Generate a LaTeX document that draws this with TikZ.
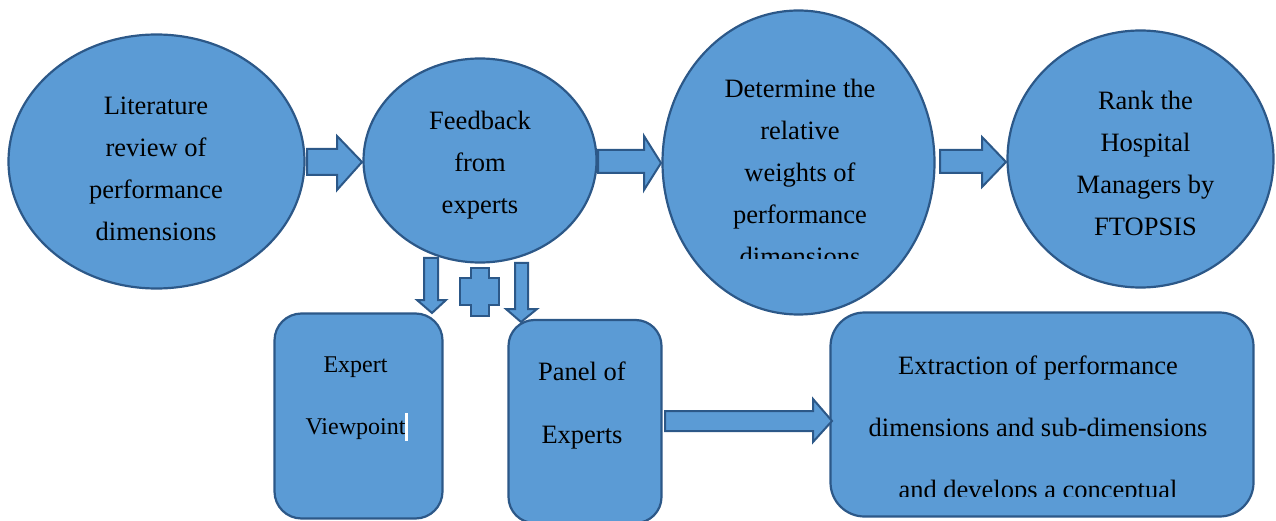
\documentclass[tikz,border=0pt]{standalone}
\usepackage{fontspec}
\setmainfont{Liberation Serif}
\usetikzlibrary{shapes.geometric}
\definecolor{fillblue}{HTML}{5B9BD5}
\definecolor{edgeblue}{HTML}{2C5888}
\begin{document}
\begin{tikzpicture}[x=1pt,y=-1pt,
  blueshape/.style={fill=fillblue, draw=edgeblue, line width=2.2pt},
  ell/.style={blueshape, ellipse, inner sep=0pt, outer sep=0pt},
  rbox/.style={blueshape, rectangle, inner sep=0pt, outer sep=0pt},
  blockarrow/.style={fill=fillblue, draw=edgeblue, line width=2pt, line join=miter},
  elltext/.style={anchor=north, align=center, inner sep=0pt, font=\fontsize{26.5}{42}\selectfont},
  boxtext/.style={anchor=north, align=center, inner sep=0pt}]
\useasboundingbox (0,0) rectangle (1276,521);

% ellipses
\node[ell, minimum width=296pt, minimum height=254pt] (lit) at (156.5,161.5) {};
\node[ell, minimum width=233pt, minimum height=204pt] (feed) at (480,160.5) {};
\node[ell, minimum width=272pt, minimum height=304pt] (det) at (798.5,162.5) {};
\node[ell, minimum width=266pt, minimum height=257pt] (rank) at (1140.5,159) {};

% rounded boxes
\node[rbox, rounded corners=27pt, minimum width=168pt, minimum height=205pt] (exp) at (358.5,416) {};
\node[rbox, rounded corners=26pt, minimum width=153pt, minimum height=203pt] (panel) at (585,421.5) {};
\node[rbox, rounded corners=34pt, minimum width=423pt, minimum height=204pt] (extr) at (1042,414.5) {};

% texts
\node[elltext] (litT) at (156,84.6) {\strut Literature\\\strut review of\\\strut performance\\\strut dimensions};
\node[elltext] (feedT) at (480,99.6) {\strut Feedback\\\strut from\\\strut experts};
\begin{scope}
\clip (660,20) rectangle (940,259);
\node[elltext] (detT) at (800,67.6) {\strut Determine the\\\strut relative\\\strut weights of\\\strut performance\\\strut dimensions};
\end{scope}
\node[elltext] (rankT) at (1145.5,79.6) {\strut Rank the\\\strut Hospital\\\strut Managers by\\\strut FTOPSIS};

\node[boxtext, font=\fontsize{24}{62}\selectfont] (expT) at (355.5,328.6) {\strut Expert\\\strut Viewpoint};
\fill[white] (405,413) rectangle (408,441);
\node[boxtext, font=\fontsize{26.5}{63}\selectfont] (panelT) at (582,335.9) {\strut Panel of\\\strut Experts};
\begin{scope}
\clip (835,320) rectangle (1250,496.5);
\node[boxtext, font=\fontsize{26.5}{62}\selectfont] (extrT) at (1038,330.6) {\strut Extraction of performance\\\strut dimensions and sub-dimensions\\\strut and develops a conceptual};
\end{scope}

% block arrows
\draw[blockarrow] (307,149) -- (337,149) -- (337,136) -- (362,162) -- (337,190) -- (337,175) -- (307,175) -- cycle;
\draw[blockarrow] (598,150) -- (644,150) -- (644,136) -- (661,163) -- (644,190) -- (644,173) -- (598,173) -- cycle;
\draw[blockarrow] (940,150) -- (982,150) -- (982,137) -- (1006,162) -- (982,187) -- (982,173) -- (940,173) -- cycle;
\draw[blockarrow] (665,411) -- (813,411) -- (813,399) -- (832,421) -- (813,442) -- (813,431) -- (665,431) -- cycle;
\draw[blockarrow] (424,258) -- (438,258) -- (438,300) -- (446,300) -- (432,313) -- (417,300) -- (424,300) -- cycle;
\draw[blockarrow] (515,263) -- (528,263) -- (528,309) -- (537,309) -- (521,322) -- (506,309) -- (515,309) -- cycle;
% plus
\draw[blockarrow] (471,268) -- (489,268) -- (489,278) -- (499,278) -- (499,305) -- (489,305) -- (489,316) -- (471,316) -- (471,305) -- (460,305) -- (460,278) -- (471,278) -- cycle;
\end{tikzpicture}
\end{document}
